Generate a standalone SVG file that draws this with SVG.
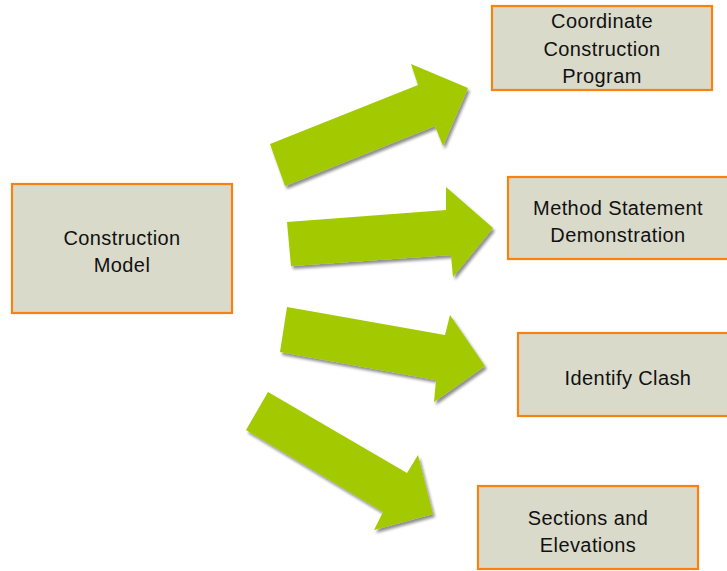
<svg xmlns="http://www.w3.org/2000/svg" width="727" height="571" viewBox="0 0 727 571">
<defs>
<filter id="sh" x="-10%" y="-10%" width="130%" height="130%">
<feGaussianBlur in="SourceAlpha" stdDeviation="1.5"/>
<feOffset dx="1.5" dy="2.5" result="b"/>
<feComponentTransfer><feFuncA type="linear" slope="0.45"/></feComponentTransfer>
<feMerge><feMergeNode/><feMergeNode in="SourceGraphic"/></feMerge>
</filter>
</defs>
<style>
.box{fill:#D9DACA;stroke:#F7820F;stroke-width:2.2}
.t{font-family:"Liberation Sans",Arial,sans-serif;font-size:20px;letter-spacing:0.4px;fill:#111;text-anchor:middle}
.arr{fill:#A3CA03;filter:url(#sh)}
</style>
<rect width="727" height="571" fill="#fff"/>
<g id="connectors">
<polygon class="arr" points="270,144 418,85 411,64 468,88 443,146 435,126 285,186"/>
<polygon class="arr" points="287,222 446,210 446,187 493,228 453,277 451,255 291,266"/>
<polygon class="arr" points="287,307 445,335 450,315 485,366 434,402 436,380 280,352"/>
<polygon class="arr" points="268,392 407,473 418,455 433,514 374,530 383,512 246,430"/>
</g>
<g id="construction-model">
<rect class="box" x="12" y="184" width="220" height="129"/>
<text class="t" x="122" y="245">Construction</text>
<text class="t" x="122" y="272">Model</text>
</g>
<g id="coordinate-construction-program">
<rect class="box" x="492" y="6" width="220" height="84"/>
<text class="t" x="602" y="28">Coordinate</text>
<text class="t" x="602" y="56">Construction</text>
<text class="t" x="602" y="83">Program</text>
</g>
<g id="method-statement-demonstration">
<rect class="box" x="508" y="177" width="222" height="82"/>
<text class="t" x="618" y="215">Method Statement</text>
<text class="t" x="618" y="242">Demonstration</text>
</g>
<g id="identify-clash">
<rect class="box" x="518" y="333" width="215" height="83"/>
<text class="t" x="628" y="385">Identify Clash</text>
</g>
<g id="sections-and-elevations">
<rect class="box" x="478" y="486" width="220" height="83"/>
<text class="t" x="588" y="525">Sections and</text>
<text class="t" x="588" y="552">Elevations</text>
</g>
</svg>
